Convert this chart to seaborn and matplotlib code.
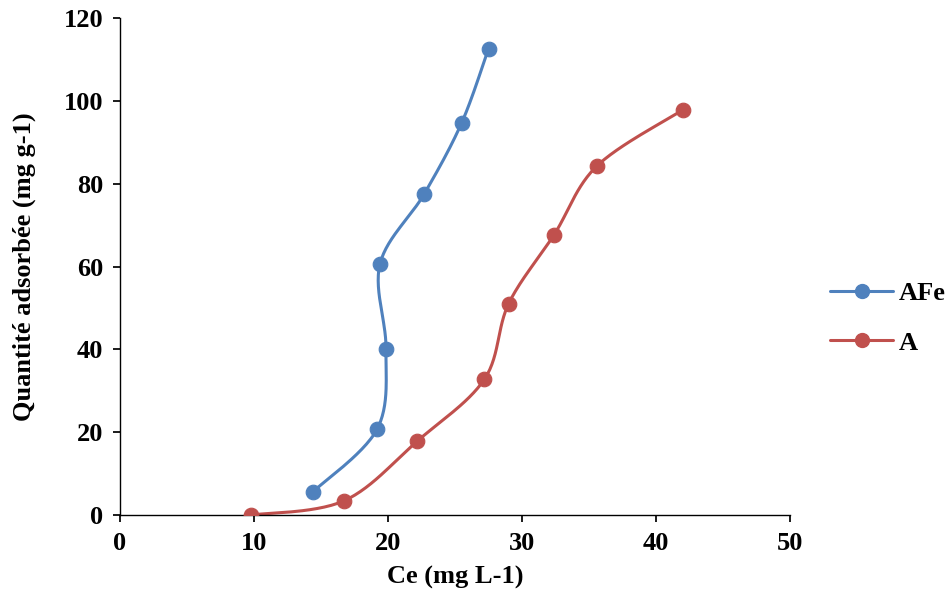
import numpy as np
import matplotlib
matplotlib.use("Agg")
import matplotlib.pyplot as plt
import seaborn as sns
from matplotlib.lines import Line2D

afe_x = [14.4, 19.2, 19.85, 19.4, 22.7, 25.5, 27.5]
afe_y = [5.6, 20.8, 40.1, 60.6, 77.5, 94.7, 112.6]
a_x = [9.8, 16.7, 22.2, 27.2, 29.0, 32.4, 35.6, 42.0]
a_y = [0.0, 3.4, 17.9, 32.8, 51.0, 67.7, 84.3, 97.8]

BLUE = "#4f81bd"
RED = "#c0504d"

sns.set_theme(style="white")
plt.rcParams["font.family"] = ["Liberation Serif", "DejaVu Serif"]
plt.rcParams["font.weight"] = "bold"
plt.rcParams["text.color"] = "black"
plt.rcParams["axes.labelcolor"] = "black"
plt.rcParams["xtick.color"] = "black"
plt.rcParams["ytick.color"] = "black"


def smooth(xs, ys, n=30):
    # Catmull-Rom curve through the points, like Excel's smoothed line
    p = np.column_stack([xs, ys]).astype(float)
    p = np.vstack([p[0], p, p[-1]])
    out = []
    t = np.linspace(0, 1, n)[:, None]
    for i in range(1, len(p) - 2):
        p0, p1, p2, p3 = p[i - 1], p[i], p[i + 1], p[i + 2]
        seg = 0.5 * ((2 * p1) + (-p0 + p2) * t + (2 * p0 - 5 * p1 + 4 * p2 - p3) * t**2
                     + (-p0 + 3 * p1 - 3 * p2 + p3) * t**3)
        out.append(seg)
    c = np.vstack(out)
    return c[:, 0], c[:, 1]


fig = plt.figure(figsize=(9.46, 6.09), dpi=100)
ax = fig.add_axes([120 / 946, 1 - 515 / 609, 670 / 946, 497 / 609])

for xs, ys, col in [(afe_x, afe_y, BLUE), (a_x, a_y, RED)]:
    sx, sy = smooth(xs, ys)
    ax.plot(sx, sy, color=col, lw=2.2, zorder=2)
    sns.scatterplot(x=xs, y=ys, ax=ax, color=col, s=110, edgecolor=col, zorder=3, legend=False)

ax.set_xlim(0, 50)
ax.set_ylim(0, 120)
ax.set_xticks(range(0, 51, 10))
ax.set_yticks(range(0, 121, 20))
for s in ["top", "right"]:
    ax.spines[s].set_visible(False)
for s in ["left", "bottom"]:
    ax.spines[s].set_color("black")
    ax.spines[s].set_linewidth(1)
ax.tick_params(axis="both", labelsize=19, length=5, direction="out", color="black",
               left=True, bottom=True, pad=7)
for lab in ax.get_xticklabels() + ax.get_yticklabels():
    lab.set_fontweight("bold")
ax.set_xlabel("Ce (mg L-1)", fontsize=19, fontweight="bold", labelpad=8)
ax.set_ylabel("Quantité adsorbée (mg g-1)", fontsize=19, fontweight="bold", labelpad=20)

handles = [Line2D([], [], color=BLUE, lw=2.2, marker="o", ms=10),
           Line2D([], [], color=RED, lw=2.2, marker="o", ms=10)]
fig.legend(handles, ["AFe", "A"], loc="center left", bbox_to_anchor=(830 / 946, 1 - 318 / 609),
           frameon=False, prop={"size": 19, "weight": "bold"}, handlelength=2.4,
           labelspacing=1.0, handletextpad=0.2, borderaxespad=0, borderpad=0)

fig.savefig("out.png", dpi=100)
